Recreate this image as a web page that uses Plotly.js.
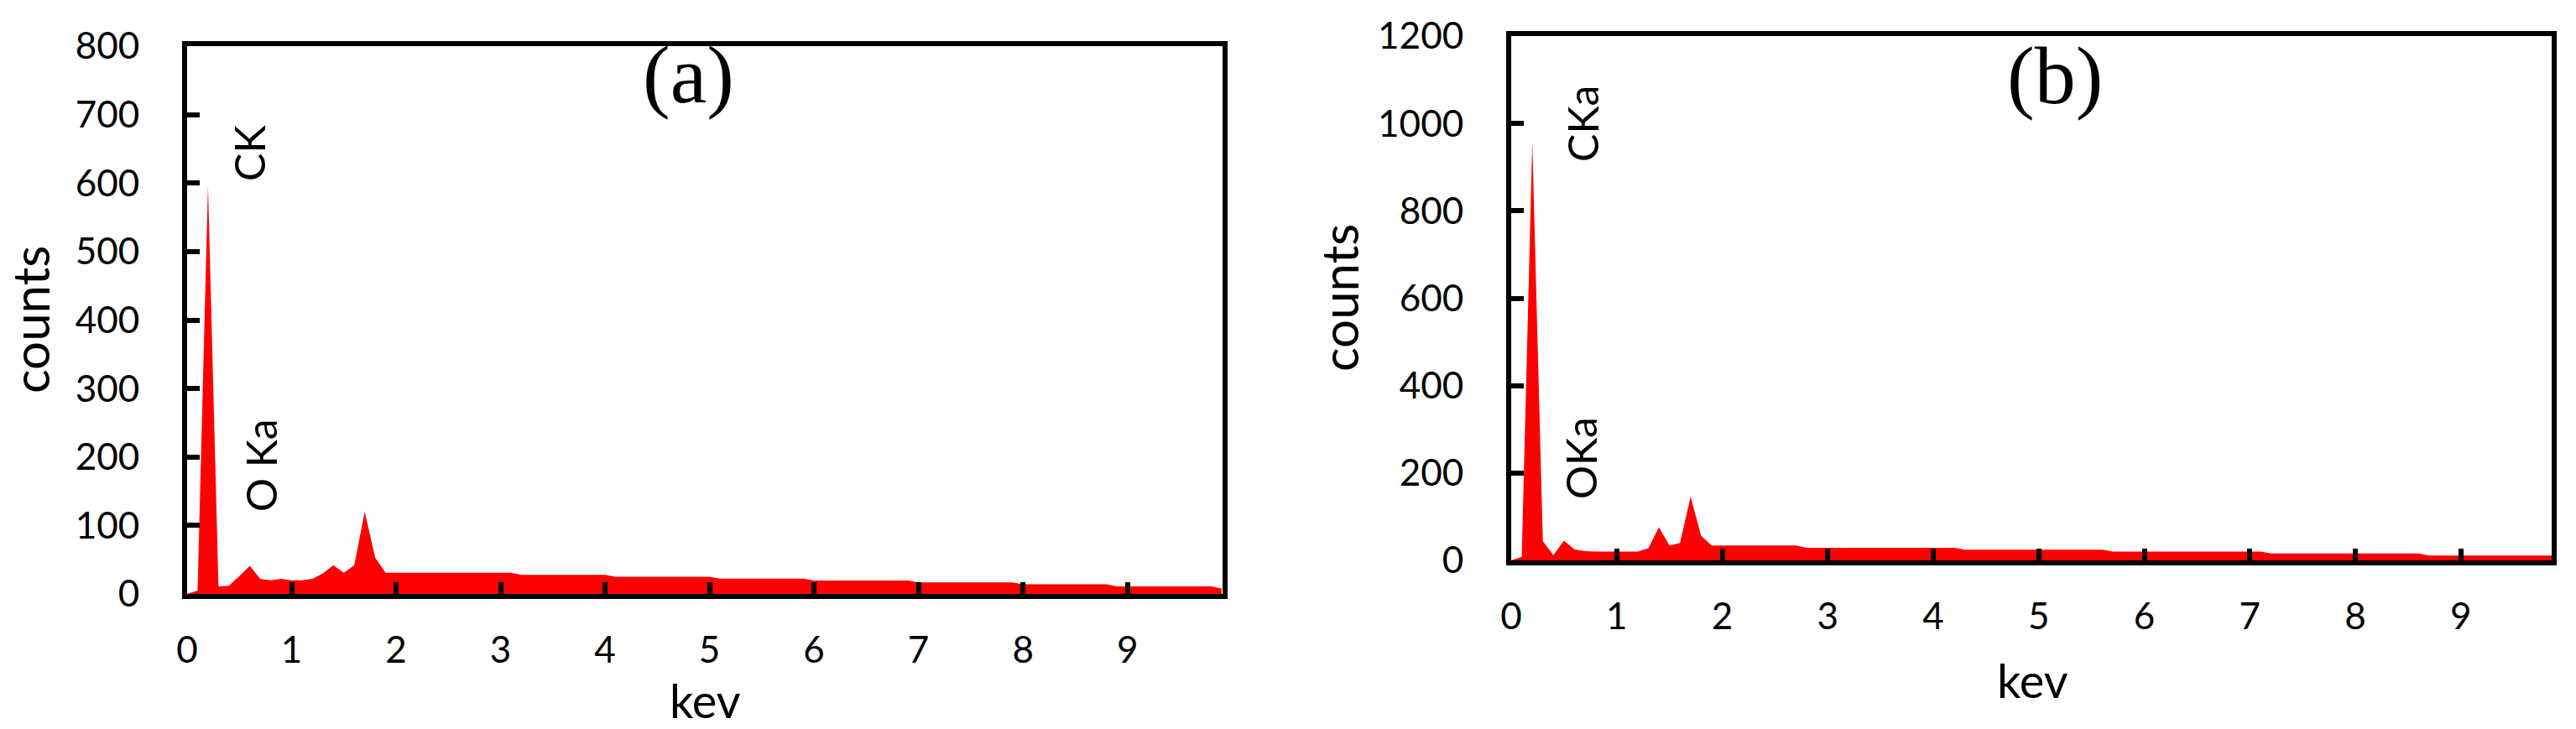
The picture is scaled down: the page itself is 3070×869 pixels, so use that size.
<!DOCTYPE html>
<html>
<head>
<meta charset="utf-8">
<script src="https://cdn.plot.ly/plotly-3.0.1.min.js"></script>
<style>
  html, body { margin: 0; padding: 0; background: #fff; }
  #chart { width: 3070px; height: 869px; }
</style>
</head>
<body>
<div id="chart"></div>
<script>
// EDS spectrum (a)
var kevA = [0, 0.1, 0.2, 0.3, 0.4, 0.5, 0.6, 0.7, 0.8, 0.9, 1.0, 1.1, 1.2, 1.3, 1.4, 1.5, 1.6, 1.7, 1.8, 1.9,
            3.1, 3.2, 4.0, 4.1, 5.0, 5.1, 5.9, 6.0, 6.9, 7.0, 7.9, 8.0, 8.8, 8.9, 9.8, 9.9];
var countsA = [0, 5, 596, 11, 12, 26, 41, 22, 20, 22, 20, 20, 22, 30, 42, 31, 42, 120, 53, 31,
               31, 28, 28, 25, 25, 22.5, 22.5, 19.7, 19.7, 16.8, 16.8, 14, 14, 11, 11, 8];

// EDS spectrum (b)
var kevB = [0, 0.1, 0.2, 0.3, 0.4, 0.5, 0.6, 0.7, 0.8, 1.2, 1.3, 1.4, 1.5, 1.6, 1.7, 1.8, 1.9,
            2.7, 2.8, 4.2, 4.3, 5.6, 5.7, 7.1, 7.2, 8.6, 8.7, 9.86];
var countsB = [0, 8, 958, 44, 12, 45, 25, 21, 20, 20, 28, 76, 34, 40, 146, 56, 34,
               34, 29, 29, 24.5, 24.5, 20, 20, 15.7, 15.7, 11, 11];

var xTicks = [0, 1, 2, 3, 4, 5, 6, 7, 8, 9];
var yTicksA = [0, 100, 200, 300, 400, 500, 600, 700, 800];
var yTicksB = [0, 200, 400, 600, 800, 1000, 1200];

var W = 3070, H = 869;
function px(x) { return x / W; }
function py(y) { return 1 - y / H; }

var tickFont = {family: 'Lato, sans-serif', size: 44, color: '#000'};

function xAxis(dom, range, anchor) {
    return {
        domain: dom, range: range, anchor: anchor,
        tickvals: xTicks, ticktext: xTicks.map(String),
        showline: true, linecolor: '#000', linewidth: 6, mirror: true,
        ticks: 'inside', ticklen: 14, tickwidth: 6, tickcolor: '#000',
        showgrid: false, zeroline: false, tickfont: tickFont,
        ticklabelstandoff: 23, fixedrange: true
    };
}
function yAxis(dom, range, vals, anchor) {
    return {
        domain: dom, range: range, anchor: anchor,
        tickvals: vals, ticktext: vals.map(String),
        showline: true, linecolor: '#000', linewidth: 6, mirror: true,
        ticks: 'inside', ticklen: 15, tickwidth: 6, tickcolor: '#000',
        showgrid: false, zeroline: false, tickfont: tickFont,
        ticklabelstandoff: 42, fixedrange: true
    };
}

var data = [
    {x: kevA, y: countsA, xaxis: 'x', yaxis: 'y', type: 'scatter', mode: 'none',
     fill: 'tozeroy', fillcolor: 'rgb(255,0,0)', hoverinfo: 'skip'},
    {x: kevB, y: countsB, xaxis: 'x2', yaxis: 'y2', type: 'scatter', mode: 'none',
     fill: 'tozeroy', fillcolor: 'rgb(255,0,0)', hoverinfo: 'skip'}
];

var labelFont = {family: 'Lato, sans-serif', size: 60, color: '#000'};
var kevFont = {family: 'Lato, sans-serif', size: 56, color: '#000'};
var peakFont = {family: 'Lato, sans-serif', size: 50, color: '#000'};
var panelFont = {family: '"Liberation Serif", "Times New Roman", serif', size: 98, color: '#000'};

function note(text, x, y, font, angle) {
    return {text: text, xref: 'paper', yref: 'paper', x: px(x), y: py(y),
            xanchor: 'center', yanchor: 'middle', showarrow: false,
            font: font, textangle: angle || 0};
}

var layout = {
    width: W, height: H,
    margin: {l: 0, r: 0, t: 0, b: 0},
    paper_bgcolor: '#fff', plot_bgcolor: '#fff',
    showlegend: false,
    xaxis: xAxis([px(223), px(1457)], [0, 9.91], 'y'),
    yaxis: yAxis([py(708), py(55)], [0, 800], yTicksA, 'x'),
    xaxis2: xAxis([px(1801), px(3041)], [0, 9.86], 'y2'),
    yaxis2: yAxis([py(668), py(43)], [0, 1200], yTicksB, 'x2'),
    annotations: [
        note('counts', 36, 381, labelFont, -90),
        note('kev', 840, 834, kevFont),
        note('CK', 297, 183, peakFont, -90),
        note('O Ka', 311, 555, peakFont, -90),
        note('(a)', 821, 89, panelFont),
        note('counts', 1596, 355, labelFont, -90),
        note('kev', 2422, 810, kevFont),
        note('CKa', 1886, 147, peakFont, -90),
        note('OKa', 1884, 546, peakFont, -90),
        note('(b)', 2449, 90, panelFont)
    ]
};

Plotly.newPlot('chart', data, layout, {displayModeBar: false, staticPlot: true});
</script>
</body>
</html>
